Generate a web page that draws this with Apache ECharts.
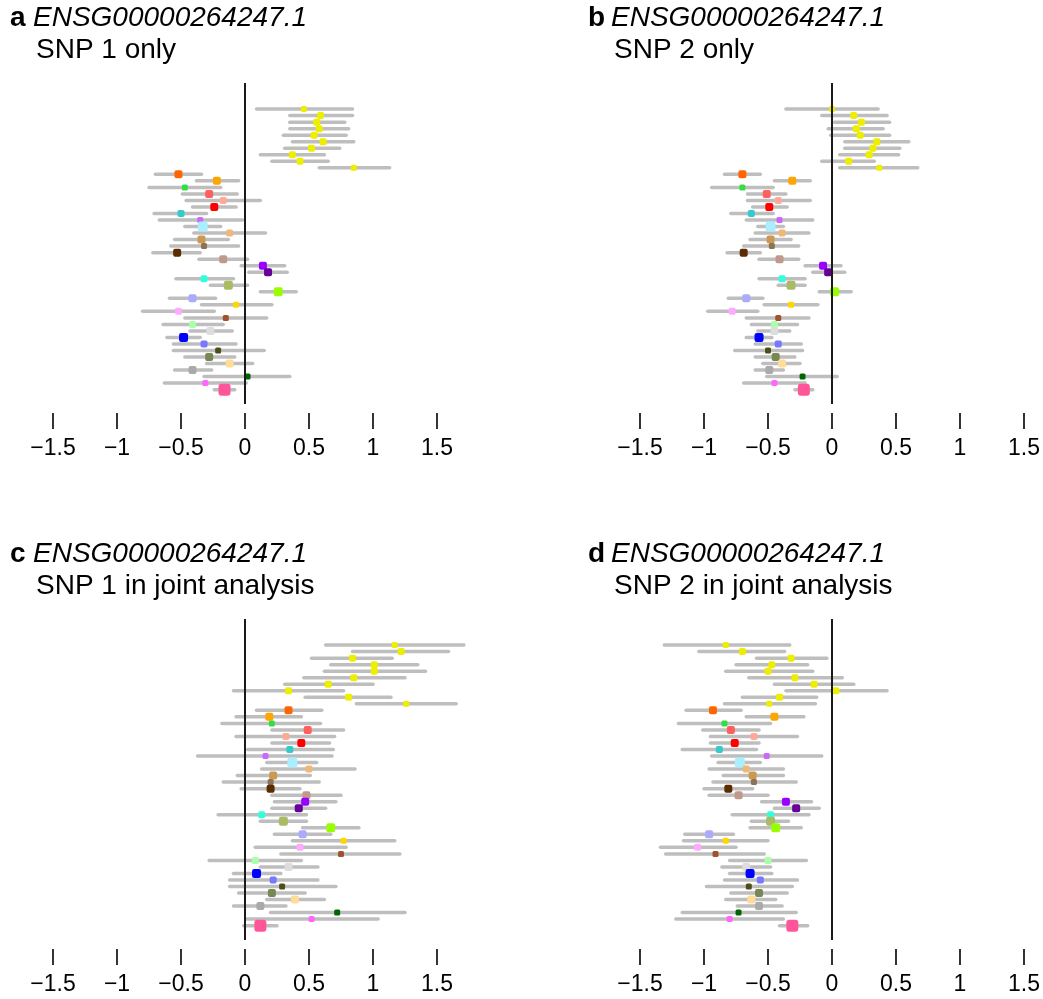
<!DOCTYPE html>
<html>
<head>
<meta charset="utf-8">
<script src="https://cdn.jsdelivr.net/npm/echarts@6/dist/echarts.min.js"></script>
<style>
html,body{margin:0;padding:0;background:#fff;}
#main{width:1043px;height:999px;}
</style>
</head>
<body>
<div id="main"></div>
<script>
// ---- data ----
const geneName = 'ENSG00000264247.1';
const panelLetters = ['a', 'b', 'c', 'd'];
const panelSubtitles = ['SNP 1 only', 'SNP 2 only', 'SNP 1 in joint analysis', 'SNP 2 in joint analysis'];
const xTicks = [-1.5, -1, -0.5, 0, 0.5, 1, 1.5];
const rows = Array.from({length: 44}, (_, i) => i + 1);

// panel a: SNP 1 only
const aLo  = [0.09,0.35,0.35,0.35,0.30,0.37,0.31,0.12,0.21,0.58,-0.70,-0.38,-0.75,-0.49,-0.46,-0.41,-0.71,-0.67,-0.47,-0.40,-0.55,-0.58,-0.72,-0.36,-0.03,0.03,-0.54,-0.27,0.12,-0.59,-0.34,-0.80,-0.47,-0.64,-0.43,-0.61,-0.56,-0.56,-0.47,-0.30,-0.55,-0.32,-0.63,-0.24];
const aEst = [0.46,0.59,0.56,0.58,0.54,0.61,0.52,0.37,0.43,0.85,-0.52,-0.22,-0.47,-0.28,-0.17,-0.24,-0.50,-0.35,-0.33,-0.12,-0.34,-0.32,-0.53,-0.17,0.14,0.18,-0.32,-0.13,0.26,-0.41,-0.07,-0.52,-0.15,-0.41,-0.27,-0.48,-0.32,-0.21,-0.28,-0.12,-0.41,0.02,-0.31,-0.16];
const aHi  = [0.84,0.84,0.78,0.81,0.79,0.85,0.74,0.62,0.65,1.13,-0.34,-0.05,-0.19,-0.06,0.12,-0.07,-0.30,-0.02,-0.19,0.16,-0.13,-0.05,-0.35,0.02,0.31,0.33,-0.09,0.02,0.40,-0.23,0.21,-0.24,0.17,-0.17,-0.10,-0.35,-0.07,0.15,-0.08,0.06,-0.26,0.35,0.01,-0.08];

// panel b: SNP 2 only
const bLo  = [-0.36,-0.08,0.02,-0.03,-0.01,0.10,0.10,0.06,-0.08,0.06,-0.84,-0.45,-0.94,-0.66,-0.66,-0.62,-0.79,-0.67,-0.58,-0.60,-0.64,-0.69,-0.82,-0.57,-0.21,-0.15,-0.57,-0.42,-0.10,-0.81,-0.53,-0.97,-0.67,-0.63,-0.58,-0.67,-0.60,-0.76,-0.60,-0.54,-0.60,-0.51,-0.69,-0.29];
const bEst = [0.00,0.17,0.23,0.19,0.22,0.35,0.32,0.29,0.13,0.37,-0.70,-0.31,-0.70,-0.51,-0.42,-0.49,-0.63,-0.41,-0.48,-0.39,-0.48,-0.47,-0.69,-0.41,-0.07,-0.03,-0.39,-0.32,0.02,-0.67,-0.32,-0.78,-0.42,-0.45,-0.45,-0.57,-0.42,-0.50,-0.44,-0.39,-0.49,-0.23,-0.45,-0.22];
const bHi  = [0.36,0.43,0.45,0.40,0.45,0.60,0.53,0.52,0.33,0.67,-0.56,-0.17,-0.46,-0.36,-0.17,-0.35,-0.46,-0.15,-0.38,-0.18,-0.32,-0.26,-0.56,-0.26,0.07,0.10,-0.21,-0.21,0.15,-0.54,-0.11,-0.58,-0.18,-0.27,-0.33,-0.47,-0.24,-0.23,-0.29,-0.25,-0.38,0.04,-0.21,-0.15];

// panel c: SNP 1 in joint analysis
const cLo  = [0.63,0.84,0.52,0.67,0.62,0.46,0.31,-0.09,0.47,0.87,0.09,-0.07,-0.18,0.21,-0.07,0.21,0.02,-0.37,0.17,0.13,-0.06,-0.17,-0.03,0.21,0.23,0.21,-0.21,0.12,0.45,0.23,0.37,0.08,0.28,-0.28,0.12,-0.09,-0.12,-0.12,-0.05,0.17,-0.09,0.20,0.01,-0.01];
const cEst = [1.17,1.22,0.84,1.01,1.01,0.85,0.65,0.34,0.81,1.26,0.34,0.19,0.21,0.49,0.32,0.44,0.35,0.16,0.37,0.50,0.22,0.20,0.20,0.48,0.47,0.42,0.13,0.30,0.67,0.45,0.77,0.43,0.75,0.08,0.34,0.09,0.22,0.29,0.21,0.39,0.12,0.72,0.52,0.12];
const cHi  = [1.71,1.59,1.15,1.35,1.41,1.25,1.00,0.77,1.14,1.65,0.60,0.44,0.59,0.77,0.70,0.66,0.69,0.68,0.56,0.86,0.51,0.58,0.43,0.75,0.71,0.63,0.48,0.48,0.89,0.67,1.17,0.79,1.21,0.44,0.57,0.28,0.57,0.71,0.47,0.62,0.32,1.25,1.04,0.25];

// panel d: SNP 2 in joint analysis
const dLo  = [-1.31,-1.04,-0.59,-0.75,-0.83,-0.65,-0.45,-0.36,-0.70,-0.84,-1.14,-0.67,-1.20,-1.01,-0.95,-0.95,-1.17,-0.94,-0.89,-0.96,-0.85,-0.93,-1.00,-0.96,-0.55,-0.45,-0.78,-0.63,-0.64,-1.15,-1.16,-1.34,-1.30,-0.80,-0.86,-0.80,-0.84,-0.98,-0.79,-0.83,-0.74,-1.17,-1.22,-0.41];
const dEst = [-0.83,-0.70,-0.32,-0.47,-0.50,-0.29,-0.14,0.03,-0.41,-0.49,-0.93,-0.45,-0.84,-0.79,-0.61,-0.76,-0.88,-0.51,-0.72,-0.67,-0.62,-0.61,-0.81,-0.73,-0.36,-0.28,-0.48,-0.48,-0.44,-0.96,-0.83,-1.05,-0.91,-0.50,-0.67,-0.64,-0.56,-0.65,-0.57,-0.63,-0.57,-0.73,-0.80,-0.31];
const dHi  = [-0.33,-0.37,-0.04,-0.19,-0.15,0.08,0.17,0.43,-0.12,-0.13,-0.71,-0.22,-0.48,-0.57,-0.27,-0.57,-0.59,-0.08,-0.56,-0.38,-0.38,-0.28,-0.62,-0.50,-0.16,-0.10,-0.18,-0.34,-0.24,-0.77,-0.50,-0.75,-0.53,-0.20,-0.48,-0.47,-0.27,-0.31,-0.35,-0.44,-0.39,-0.28,-0.38,-0.19];

// ---- styles ----
const rowColors = ['#EEEE00','#EEEE00','#EEEE00','#EEEE00','#EEEE00','#EEEE00','#EEEE00','#EEEE00','#EEEE00','#EEEE00',
  '#FF6600','#FFA500','#33DD44','#FF5F5F','#FFAA98','#FF0000','#33CCCC','#CC66FF','#AAEEFF','#F0B878',
  '#CC9955','#8C7355','#5A2D00','#C0998A','#9900FF','#660099','#33FFDD','#AABB66','#99FF00','#AAAAFF',
  '#FFD700','#FFAAFF','#A0522D','#AAFFAA','#DDDDDD','#0000FF','#7777FF','#4D4D1A','#778855','#FFDD99',
  '#AAAAAA','#006600','#FF66FF','#FF5599'];
const markerSize = [6,7,7,7,7,7,7,7,7,6, 8,8,6,8,7,8,7,6,10,7, 8,6,8,8,8,8,7,9,9,8, 6,7,6,7,8,9,7,6,8,8, 8,6,6,12];

const FONT = '"Liberation Sans", Arial, Helvetica, sans-serif';
const panels = [
  {lo: aLo, est: aEst, hi: aHi, left: 53, top: 83, tx: 10, ty: 0},
  {lo: bLo, est: bEst, hi: bHi, left: 640, top: 83, tx: 588, ty: 0},
  {lo: cLo, est: cEst, hi: cHi, left: 53, top: 619, tx: 10, ty: 536},
  {lo: dLo, est: dEst, hi: dHi, left: 640, top: 619, tx: 588, ty: 536}
];

const grid = [], xAxis = [], yAxis = [], series = [], graphic = [];
panels.forEach((p, k) => {
  grid.push({left: p.left, top: p.top, width: 384, height: 321});
  xAxis.push({
    gridIndex: k, type: 'value', position: 'bottom', min: xTicks[0], max: xTicks[xTicks.length - 1], interval: 0.5,
    offset: 9,
    axisLine: {show: false, onZero: false},
    axisTick: {show: true, length: 16, lineStyle: {color: '#000', width: 1.6}},
    splitLine: {show: false},
    axisLabel: {fontSize: 23, color: '#000', margin: 24, fontFamily: FONT,
      showMinLabel: true, showMaxLabel: true,
      formatter: v => String(v).replace('-', '\u2212')}
  });
  yAxis.push({gridIndex: k, type: 'value', min: -3, max: 46.2, inverse: true, show: false});
  const ci = rows.map((r, i) => [p.lo[i], p.est[i], p.hi[i], r]);
  series.push({
    type: 'custom', xAxisIndex: k, yAxisIndex: k, z: 1, silent: true,
    encode: {x: [0, 2], y: 3},
    data: ci,
    renderItem: (params, api) => {
      const a = api.coord([api.value(0), api.value(3)]);
      const b = api.coord([api.value(2), api.value(3)]);
      return {type: 'line', shape: {x1: a[0], y1: a[1], x2: b[0], y2: b[1]},
        style: {stroke: '#BEBEBE', lineWidth: 3.5, lineCap: 'round'}};
    }
  });
  series.push({
    type: 'line', xAxisIndex: k, yAxisIndex: k, z: 2, data: [], silent: true,
    markLine: {silent: true, symbol: ['none', 'none'], label: {show: false},
      lineStyle: {color: '#1a1a1a', width: 2, type: 'solid'},
      data: [{xAxis: 0}]}
  });
  series.push({
    type: 'scatter', xAxisIndex: k, yAxisIndex: k, z: 3, silent: true,
    symbol: 'roundRect',
    symbolSize: (v, prm) => markerSize[prm.dataIndex],
    itemStyle: {color: prm => rowColors[prm.dataIndex], opacity: 1},
    data: rows.map((r, i) => [p.est[i], r])
  });
  graphic.push({type: 'text', left: p.tx, top: p.ty + 4,
    style: {text: panelLetters[k], font: 'bold 28px ' + FONT, fill: '#000'}});
  graphic.push({type: 'text', left: p.tx + 23, top: p.ty + 4,
    style: {text: geneName, font: 'italic 28px ' + FONT, fill: '#000'}});
  graphic.push({type: 'text', left: p.tx + 26, top: p.ty + 36,
    style: {text: panelSubtitles[k], font: '28px ' + FONT, fill: '#000'}});
});

const chart = echarts.init(document.getElementById('main'), null, {renderer: 'canvas'});
chart.setOption({
  animation: false,
  backgroundColor: '#fff',
  grid, xAxis, yAxis, series, graphic
});
</script>
</body>
</html>
